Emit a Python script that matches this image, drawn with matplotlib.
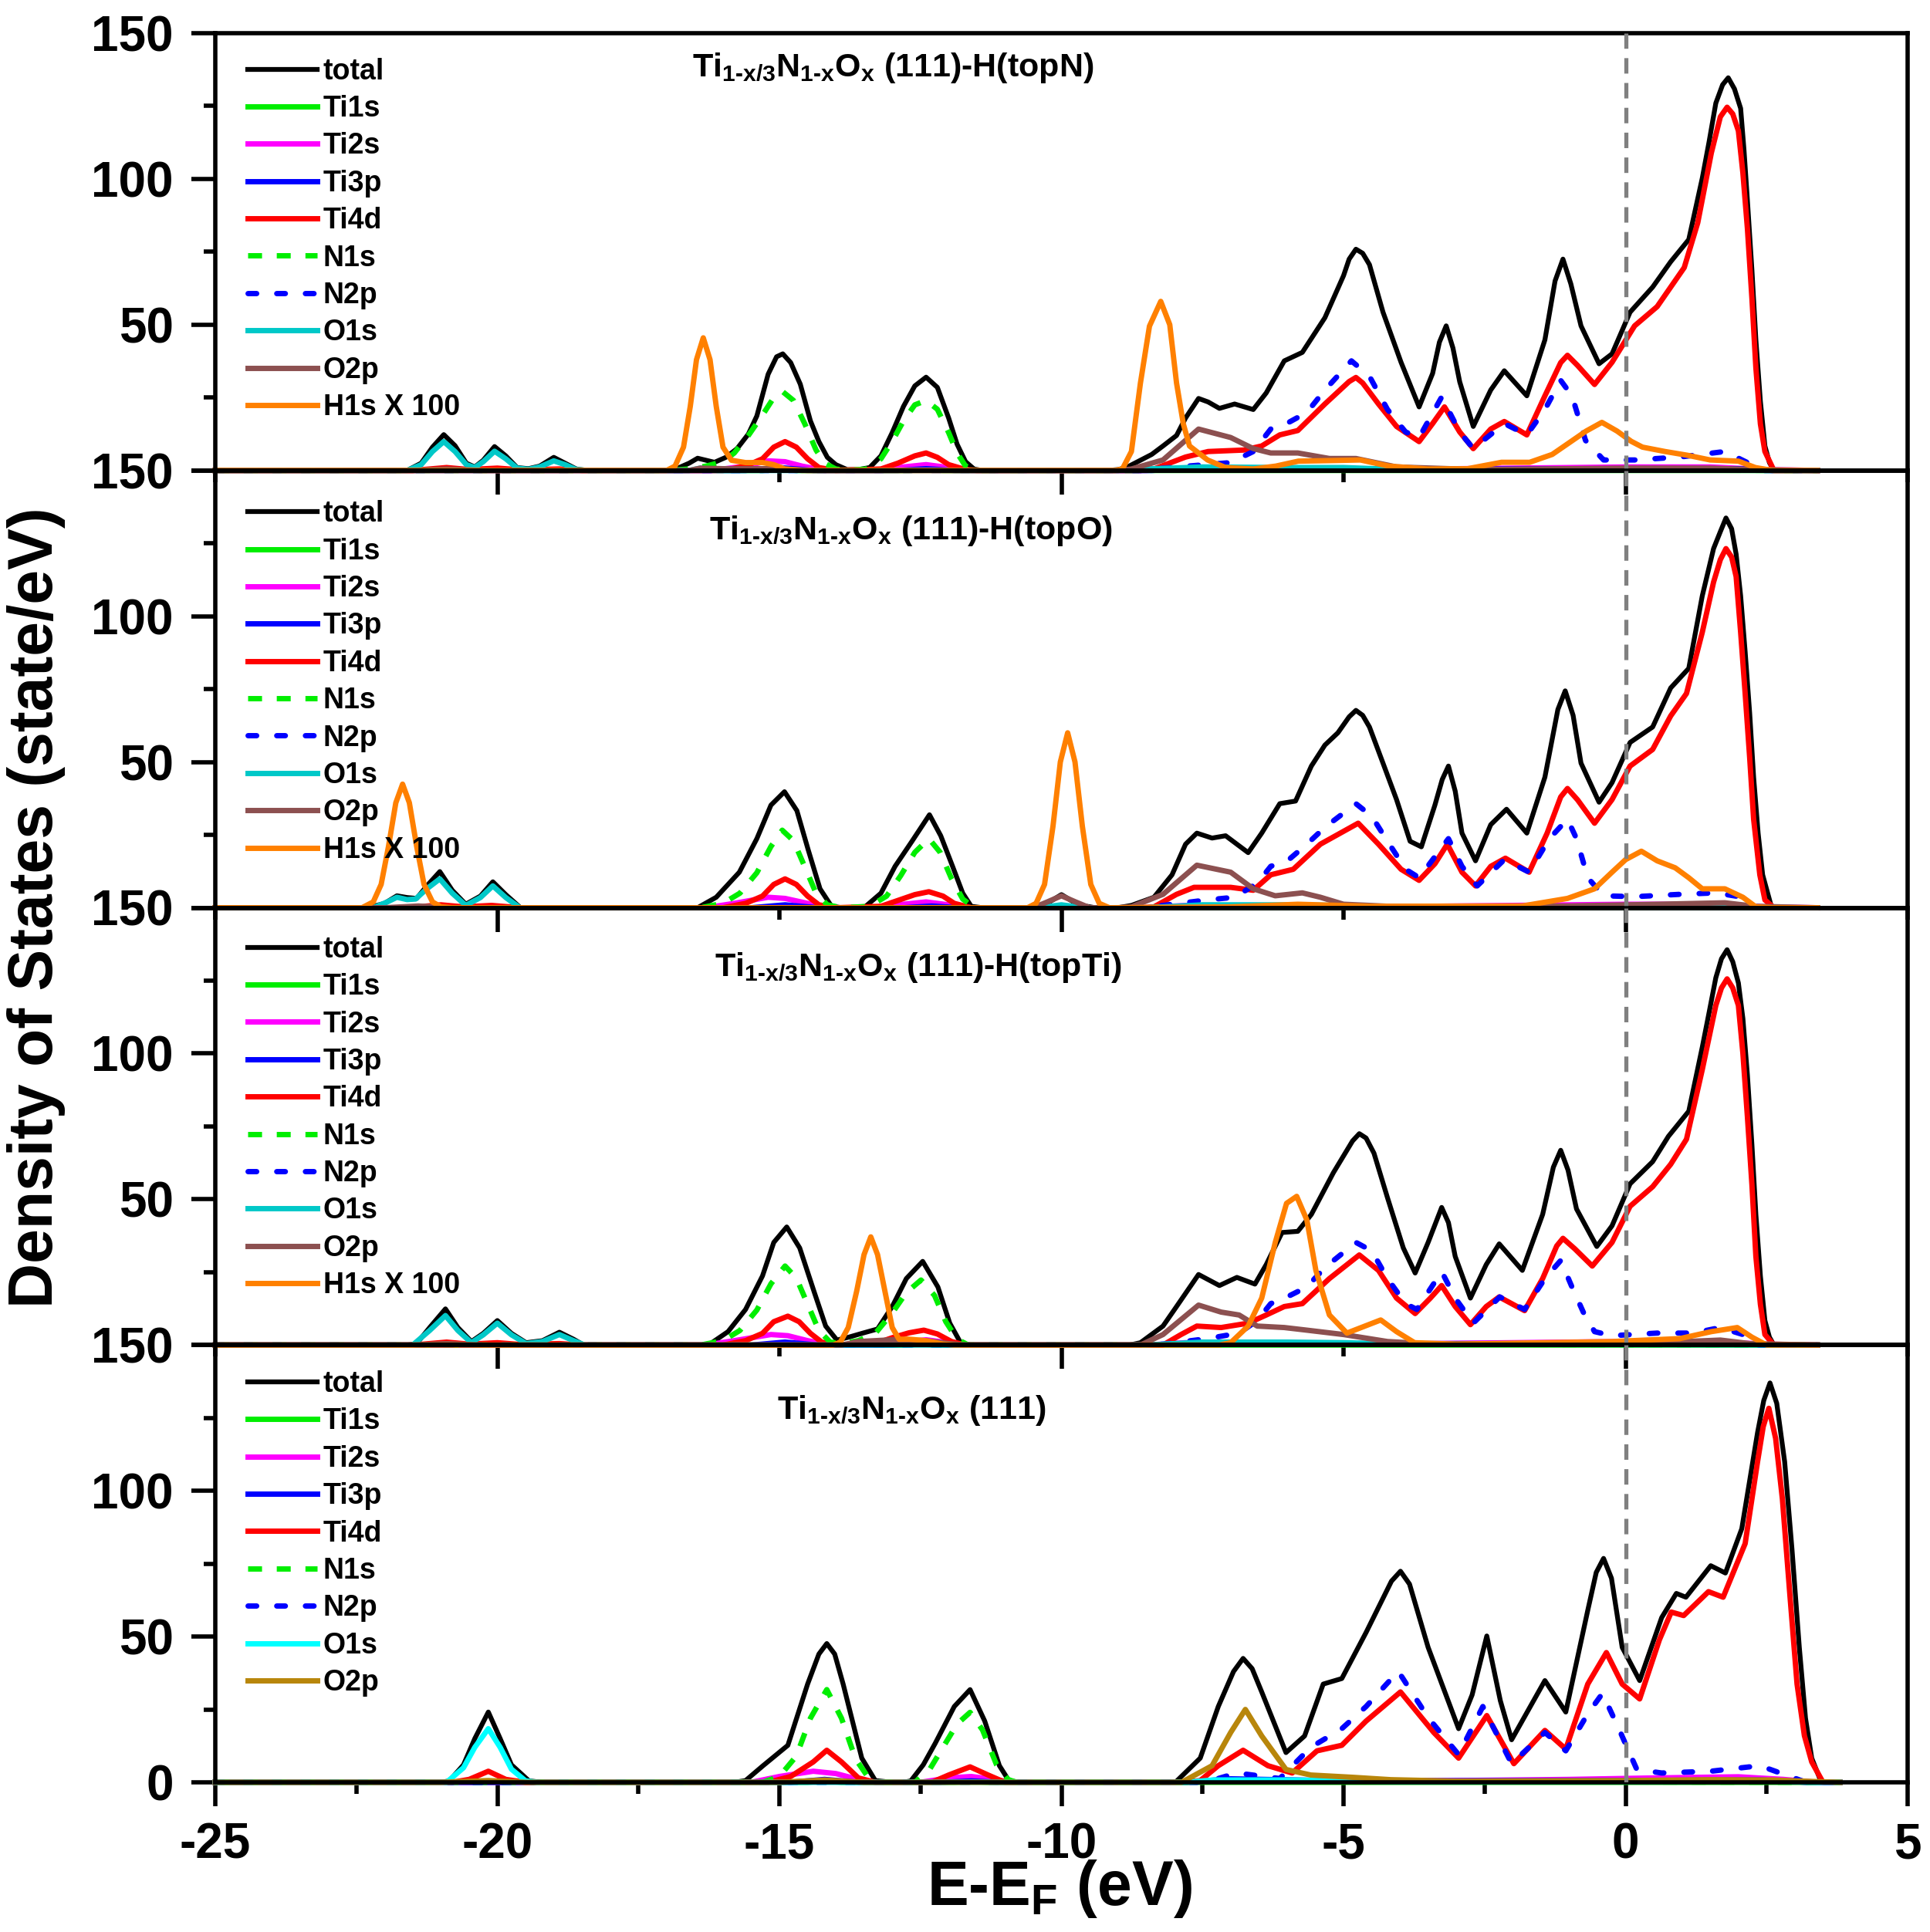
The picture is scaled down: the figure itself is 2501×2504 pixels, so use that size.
import matplotlib
matplotlib.use("Agg")
import matplotlib.pyplot as plt
from matplotlib.ticker import MultipleLocator

# fonts: bold Arial look-alike everywhere, also inside mathtext
plt.rcParams['font.family'] = ['Liberation Sans', 'DejaVu Sans']
plt.rcParams['font.weight'] = 'bold'
plt.rcParams['axes.unicode_minus'] = False
plt.rcParams['mathtext.fontset'] = 'custom'
plt.rcParams['mathtext.rm'] = 'Liberation Sans:bold'
plt.rcParams['mathtext.it'] = 'Liberation Sans:bold'
plt.rcParams['mathtext.bf'] = 'Liberation Sans:bold'

# ---------------- data: (E-EF, DOS) points ----------------
# panel 1: H on top of N
p1_total = [(-25, 0), (-21.6, 0), (-21.35, 2.5), (-21.15, 8), (-20.95, 12.3), (-20.75, 8.5), (-20.55, 2.5), (-20.4, 1.2),
            (-20.25, 3.5), (-20.05, 8.2), (-19.85, 5), (-19.65, 1), (-19.45, 0.6), (-19.25, 1.5), (-19.0, 4.5), (-18.8, 2.5),
            (-18.6, 0.5), (-18.4, 0), (-17.0, 0), (-16.8, 0.8), (-16.6, 2.5), (-16.45, 4.2), (-16.3, 3.5), (-16.15, 2.8),
            (-15.95, 4.5), (-15.75, 7.5), (-15.55, 12.5), (-15.4, 18.7), (-15.2, 33), (-15.05, 39), (-14.94, 40), (-14.8, 37),
            (-14.63, 29.6), (-14.45, 17), (-14.3, 9.9), (-14.15, 4.5), (-14.0, 2), (-13.8, 0.3), (-13.6, 0.3), (-13.4, 1),
            (-13.2, 5), (-13.0, 13), (-12.8, 22), (-12.6, 29), (-12.4, 32), (-12.2, 28.5), (-12.0, 18), (-11.85, 9),
            (-11.7, 3), (-11.55, 0.5), (-11.4, 0), (-9.2, 0), (-9.0, 0.3), (-8.85, 1), (-8.68, 2.7), (-8.4, 5.5), (-8.2, 8.4),
            (-7.96, 12), (-7.8, 18), (-7.57, 24.7), (-7.4, 23.5), (-7.2, 21.3), (-6.93, 22.8), (-6.6, 20.9), (-6.37, 26.6),
            (-6.05, 37.6), (-5.73, 40.5), (-5.33, 52.4), (-5.0, 66.8), (-4.9, 72.5), (-4.78, 75.9), (-4.66, 74.5),
            (-4.54, 70.6), (-4.3, 54.3), (-3.98, 37.1), (-3.66, 21.8), (-3.42, 33.3), (-3.3, 44), (-3.18, 49.6),
            (-3.06, 42), (-2.94, 30.4), (-2.7, 15.1), (-2.39, 27.6), (-2.15, 34.2), (-1.75, 25.6), (-1.43, 44.8),
            (-1.25, 65), (-1.11, 72.5), (-0.97, 64), (-0.79, 49.6), (-0.47, 36.6), (-0.24, 40), (0.08, 54.3),
            (0.48, 62.9), (0.8, 71.6), (1.12, 79.2), (1.36, 100.3), (1.48, 112.7), (1.6, 126), (1.72, 132.3),
            (1.82, 134.7), (1.93, 130.9), (2.04, 124.2), (2.1, 109.8), (2.16, 92.6), (2.24, 68.7), (2.31, 44.8),
            (2.39, 23.7), (2.47, 8.4), (2.55, 2.7), (2.63, 0), (3.4, 0)]
p1_ti1s = [(-25, 0), (-15.3, 0), (-15.0, 0.4), (-14.7, 0), (-12.7, 0), (-12.4, 0.3), (-12.1, 0), (3.4, 0)]
p1_ti2s = [(-25, 0), (-16.2, 0), (-15.6, 1.5), (-15.2, 3.3), (-14.9, 3), (-14.6, 1.5), (-14.2, 0), (-13.2, 0),
           (-12.8, 1.2), (-12.4, 2), (-12.0, 1), (-11.6, 0), (-8.5, 0), (-7.8, 0.8), (-7.0, 0.6), (-6.0, 0.5),
           (-4.0, 0.4), (-2.0, 0.8), (0.0, 1.2), (1.5, 1.2), (2.5, 0.3), (3.4, 0)]
p1_ti3p = [(-25, 0), (-15.6, 0), (-15.0, 1.0), (-14.4, 0), (-12.9, 0), (-12.4, 0.6), (-11.9, 0), (-8.4, 0),
           (-7.5, 0.8), (-5.0, 0.5), (0.0, 0.5), (2.0, 0.6), (2.6, 0), (3.4, 0)]
p1_ti4d = [(-25, 0), (-21.5, 0), (-20.9, 1.0), (-20.5, 0.3), (-20.0, 0.8), (-19.6, 0.2), (-18.9, 0.5), (-18.5, 0),
           (-16.0, 0), (-15.6, 1.5), (-15.3, 4), (-15.1, 8), (-14.9, 9.9), (-14.7, 8), (-14.5, 4), (-14.3, 1), (-14.0, 0),
           (-13.2, 0.5), (-12.9, 2.5), (-12.6, 5), (-12.4, 6), (-12.2, 4.5), (-12.0, 2), (-11.7, 0.3), (-11.5, 0),
           (-8.6, 0), (-8.36, 0.5), (-7.8, 4.6), (-7.4, 6.5), (-6.77, 7), (-6.45, 8.4), (-6.13, 12.2), (-5.81, 13.7),
           (-5.33, 22.8), (-4.9, 30.5), (-4.78, 31.9), (-4.66, 30), (-4.38, 22.8), (-4.06, 15.1), (-3.66, 9.9),
           (-3.42, 16.1), (-3.21, 21.8), (-2.94, 13.2), (-2.7, 7.5), (-2.39, 14.2), (-2.15, 16.8), (-1.75, 12.2),
           (-1.43, 25.6), (-1.15, 37), (-1.03, 39.5), (-0.85, 36), (-0.55, 29.5), (-0.24, 37.1), (0.16, 49.6),
           (0.56, 56.2), (1.04, 69.6), (1.28, 85), (1.52, 108.9), (1.68, 121.3), (1.8, 124.6), (1.9, 122.3),
           (2.0, 116.5), (2.08, 102), (2.16, 83), (2.24, 59), (2.31, 35.2), (2.39, 16), (2.47, 6.5), (2.63, 0), (3.4, 0)]
p1_n1s = [(-25, 0), (-17.0, 0), (-16.6, 0.5), (-16.3, 1.5), (-16.0, 3), (-15.8, 6), (-15.55, 12), (-15.3, 19),
          (-15.1, 25), (-14.94, 27), (-14.75, 24), (-14.55, 16), (-14.35, 7), (-14.2, 2.5), (-14.0, 0.5), (-13.8, 0),
          (-13.45, 0.5), (-13.2, 4), (-13.0, 10), (-12.8, 17), (-12.6, 22.5), (-12.4, 24), (-12.2, 21), (-12.0, 13),
          (-11.85, 6), (-11.7, 1.5), (-11.5, 0), (-8.5, 0), (-7.6, 0.6), (-6.5, 0.3), (-5.0, 0.3), (3.4, 0)]
p1_n2p = [(-25, 0), (-8.6, 0), (-8.2, 0.8), (-7.0, 2.7), (-6.6, 6.5), (-6.29, 14.2), (-5.97, 16.5), (-5.65, 19.9),
          (-5.33, 27.6), (-4.86, 37.6), (-4.54, 32.3), (-4.22, 20.9), (-3.9, 13.2), (-3.66, 11.3), (-3.26, 25.2),
          (-2.94, 13.2), (-2.7, 7.5), (-2.15, 16.1), (-1.75, 12.2), (-1.43, 20.9), (-1.15, 30.9), (-0.95, 25.6),
          (-0.71, 10.3), (-0.39, 3.6), (0.16, 3.6), (0.96, 4.6), (1.76, 6.5), (2.16, 2.7), (2.39, 0), (3.4, 0)]
p1_o1s = [(-25, 0), (-21.6, 0), (-21.35, 2), (-21.15, 6.5), (-20.95, 9.9), (-20.75, 6.5), (-20.55, 2), (-20.4, 1),
          (-20.25, 3), (-20.05, 6.6), (-19.85, 4), (-19.65, 0.8), (-19.45, 0.4), (-19.25, 1.2), (-19.0, 3.3), (-18.8, 2),
          (-18.6, 0.3), (-18.4, 0), (-16.6, 0), (-16.4, 0.8), (-16.1, 0), (-9.0, 0), (-8.5, 0.5), (-7.5, 1.2),
          (-6.0, 1.0), (-5.0, 1.0), (-4.0, 0.3), (3.4, 0)]
p1_o2p = [(-25, 0), (-21.5, 0), (-20.9, 0.5), (-20.3, 0), (-16.6, 0), (-16.4, 0.8), (-16.0, 0.6), (-15.0, 0.6),
          (-14.5, 0), (-9.0, 0), (-8.76, 0.5), (-8.2, 3.6), (-7.57, 14.2), (-7.0, 11.3), (-6.6, 7.5), (-6.29, 6),
          (-5.81, 6), (-5.25, 4.1), (-4.78, 4.1), (-4.06, 1.2), (-2.63, 0.3), (0.0, 0.8), (1.5, 0.8), (2.3, 0.3), (3.4, 0)]
p1_h1s = [(-25, 0), (-17.0, 0), (-16.85, 1.5), (-16.7, 8), (-16.58, 22), (-16.47, 38), (-16.35, 45.5), (-16.23, 38),
          (-16.12, 22), (-16.0, 8), (-15.85, 3.5), (-15.6, 2.7), (-15.3, 2.7), (-15.1, 2), (-14.9, 0.5), (-14.6, 0),
          (-9.05, 0), (-8.92, 0.5), (-8.76, 6.5), (-8.6, 30), (-8.44, 49.5), (-8.24, 58), (-8.08, 50), (-7.96, 30),
          (-7.84, 16), (-7.73, 8.4), (-7.41, 3.6), (-7.09, 1), (-6.6, 0.5), (-6.2, 1.5), (-5.8, 3.2), (-5.2, 3.4),
          (-4.7, 3.6), (-4.2, 1.5), (-3.5, 0.5), (-2.8, 0.6), (-2.2, 2.8), (-1.7, 2.8), (-1.3, 5.5), (-1.0, 9.5),
          (-0.7, 13.5), (-0.42, 16.5), (-0.15, 13.5), (0.1, 10), (0.3, 8), (0.7, 6.5), (1.1, 5.2), (1.5, 3.6),
          (2.0, 3.2), (2.3, 1), (2.6, 0), (3.4, 0)]

# panel 2: H on top of O
p2_total = [(-25, 0), (-22.3, 0), (-22.0, 1.5), (-21.78, 4.1), (-21.6, 3.5), (-21.43, 3.2), (-21.25, 7.5), (-21.02, 12.4),
            (-20.8, 6), (-20.56, 1.2), (-20.3, 4), (-20.08, 8.9), (-19.85, 4.5), (-19.59, 0), (-16.45, 0), (-16.12, 3.6),
            (-15.71, 12.2), (-15.4, 23.7), (-15.15, 35.2), (-14.91, 39.8), (-14.69, 33.3), (-14.49, 19.9), (-14.28, 6.5),
            (-14.08, 0.6), (-13.9, 0), (-13.5, 0), (-13.2, 5), (-12.95, 14.2), (-12.65, 22.8), (-12.34, 31.9),
            (-12.14, 24.7), (-11.93, 14.2), (-11.75, 5), (-11.6, 0.5), (-11.4, 0), (-10.5, 0), (-10.3, 1), (-10.0, 4.5),
            (-9.7, 1), (-9.4, 0), (-9.0, 0), (-8.76, 0.8), (-8.36, 3.6), (-8.04, 11.3), (-7.8, 21.8), (-7.6, 25.6),
            (-7.33, 23.9), (-7.09, 24.7), (-6.69, 18.9), (-6.45, 25.6), (-6.13, 35.7), (-5.85, 36.6), (-5.57, 48.6),
            (-5.33, 55.8), (-5.1, 60), (-4.9, 65.5), (-4.78, 67.7), (-4.66, 66), (-4.54, 62), (-4.3, 49.6),
            (-4.06, 37.1), (-3.82, 22.8), (-3.62, 20.9), (-3.38, 35.2), (-3.25, 44), (-3.14, 48.6), (-3.02, 40),
            (-2.9, 25.6), (-2.66, 16.1), (-2.39, 28.5), (-2.11, 33.8), (-1.75, 25.6), (-1.43, 44.8), (-1.2, 68),
            (-1.07, 74.4), (-0.93, 66), (-0.79, 49.6), (-0.47, 36.2), (-0.24, 42.9), (0.08, 56.7), (0.48, 62),
            (0.8, 75.4), (1.12, 82.1), (1.36, 107), (1.56, 123.2), (1.68, 129), (1.78, 133.7), (1.88, 130),
            (1.96, 121.3), (2.04, 107), (2.12, 87.8), (2.2, 66.8), (2.27, 44.8), (2.35, 25.6), (2.43, 11.3),
            (2.59, 0), (3.4, 0)]
p2_ti1s = [(-25, 0), (-15.2, 0), (-14.9, 0.4), (-14.6, 0), (-12.6, 0), (-12.3, 0.3), (-12.0, 0), (3.4, 0)]
p2_ti2s = [(-25, 0), (-16.3, 0), (-15.8, 1.5), (-15.2, 3.6), (-14.9, 3.2), (-14.5, 1.5), (-14.1, 0), (-13.3, 0),
           (-12.8, 1.2), (-12.4, 2), (-12.0, 1), (-11.6, 0), (-8.5, 0), (-7.8, 0.8), (-6.0, 0.5), (-4.0, 0.4),
           (-2.0, 0.8), (0.0, 1.2), (1.5, 1.2), (2.5, 0.3), (3.4, 0)]
p2_ti3p = [(-25, 0), (-15.5, 0), (-14.9, 1.0), (-14.3, 0), (-12.8, 0), (-12.3, 0.6), (-11.8, 0), (-8.4, 0),
           (-7.5, 0.8), (-5.0, 0.5), (0.0, 0.5), (2.0, 0.6), (2.6, 0), (3.4, 0)]
p2_ti4d = [(-25, 0), (-21.6, 0), (-21.0, 1.0), (-20.6, 0.3), (-20.1, 0.8), (-19.6, 0), (-16.0, 0), (-15.6, 1.5),
           (-15.3, 4), (-15.1, 8), (-14.9, 9.9), (-14.7, 8), (-14.5, 4), (-14.3, 1), (-14.0, 0), (-13.2, 0.5),
           (-12.9, 2.5), (-12.6, 4.5), (-12.35, 5.5), (-12.1, 4), (-11.9, 1.5), (-11.6, 0), (-8.6, 0), (-8.36, 0.3),
           (-7.96, 4.6), (-7.65, 7), (-7.0, 7), (-6.6, 6), (-6.29, 11.3), (-5.89, 13.2), (-5.41, 21.8), (-4.74, 29),
           (-4.38, 21.8), (-3.98, 13.2), (-3.66, 9.4), (-3.38, 15.1), (-3.16, 21.8), (-2.9, 12.2), (-2.66, 7.5),
           (-2.39, 14.2), (-2.13, 17), (-1.71, 12.2), (-1.39, 25.6), (-1.15, 38), (-1.03, 40.9), (-0.85, 37),
           (-0.55, 29), (-0.24, 37.1), (0.08, 48.6), (0.48, 54.3), (0.8, 65.8), (1.08, 73.5), (1.36, 94.5),
           (1.56, 111.7), (1.68, 119.4), (1.78, 123.2), (1.88, 120.3), (1.96, 113.6), (2.04, 94.5), (2.12, 73.5),
           (2.2, 51.5), (2.27, 30.4), (2.38, 11.3), (2.47, 2.7), (2.63, 0), (3.4, 0)]
p2_n1s = [(-25, 0), (-16.4, 0), (-16.0, 1.5), (-15.7, 5), (-15.4, 12), (-15.15, 21), (-14.95, 26.6), (-14.75, 23),
          (-14.55, 14), (-14.35, 5), (-14.15, 1), (-13.9, 0), (-13.4, 0.5), (-13.1, 4), (-12.85, 11), (-12.6, 19),
          (-12.35, 23.7), (-12.15, 19), (-11.95, 10), (-11.75, 3), (-11.55, 0), (-8.5, 0), (-7.6, 0.6), (-6.5, 0.3),
          (-5.0, 0.3), (3.4, 0)]
p2_n2p = [(-25, 0), (-8.6, 0), (-8.2, 0.8), (-7.41, 2.7), (-6.93, 3.6), (-6.53, 8.4), (-6.29, 14.2), (-5.97, 16.5),
          (-5.65, 21.8), (-5.33, 27.6), (-4.78, 35.7), (-4.5, 31.4), (-4.22, 22.8), (-3.9, 13.2), (-3.66, 10.3),
          (-3.14, 23.7), (-2.9, 14.2), (-2.63, 7.5), (-2.15, 16.5), (-1.71, 12.2), (-1.35, 23.7), (-1.03, 30.4),
          (-0.87, 23.7), (-0.67, 10.3), (-0.39, 4.1), (0.16, 3.8), (0.96, 4.6), (1.6, 5.1), (2.08, 3.6), (2.31, 0),
          (3.4, 0)]
p2_o1s = [(-25, 0), (-22.2, 0), (-21.95, 2), (-21.78, 3.6), (-21.6, 2.8), (-21.45, 3), (-21.25, 6.5), (-21.02, 9.9),
          (-20.8, 5), (-20.56, 0.8), (-20.3, 3.5), (-20.08, 7.5), (-19.85, 3.5), (-19.6, 0), (-10.4, 0), (-10.0, 1),
          (-9.6, 0), (-8.5, 0), (-7.5, 1.0), (-6.0, 1.0), (-5.0, 0.8), (-4.0, 0.3), (3.4, 0)]
p2_o2p = [(-25, 0), (-22.0, 0), (-21.4, 0.6), (-20.8, 0), (-10.5, 0), (-10.25, 2), (-10.0, 4.1), (-9.75, 2),
          (-9.5, 0), (-9.0, 0), (-8.76, 0.3), (-8.2, 4.6), (-7.6, 14.6), (-7.0, 12.2), (-6.6, 6.5), (-6.21, 4.1),
          (-5.73, 5.1), (-5.41, 3.6), (-5.0, 1.2), (-4.2, 0.5), (-1.0, 0.6), (0.56, 1.2), (1.76, 1.7), (2.3, 0.5),
          (3.4, 0)]
p2_h1s = [(-25, 0), (-22.4, 0), (-22.2, 2), (-22.06, 8), (-21.93, 21), (-21.8, 36), (-21.68, 42.4), (-21.56, 36),
          (-21.43, 21), (-21.3, 8), (-21.15, 2), (-21.0, 0.3), (-20.8, 0), (-10.6, 0), (-10.45, 1.5), (-10.3, 8),
          (-10.15, 28), (-10.02, 50), (-9.89, 60), (-9.76, 50), (-9.63, 28), (-9.48, 8), (-9.33, 1.5), (-9.15, 0),
          (-7.0, 0.3), (-5.81, 1.2), (-4.5, 0.5), (-1.83, 0.6), (-1.03, 3.2), (-0.55, 6.5), (-0.24, 12.2), (0.0, 16.5),
          (0.28, 19.4), (0.56, 16.1), (0.88, 13.7), (1.12, 10.3), (1.36, 6.5), (1.76, 6.5), (2.08, 3.6), (2.31, 0.3),
          (2.6, 0), (3.4, 0)]

# panel 3: H on top of Ti
p3_total = [(-25, 0), (-21.6, 0), (-21.43, 0.5), (-21.2, 6), (-20.92, 12.4), (-20.7, 6), (-20.46, 1.2), (-20.25, 4),
            (-20.0, 8.4), (-19.75, 4), (-19.49, 0.8), (-19.2, 1.5), (-18.9, 4.4), (-18.65, 2), (-18.47, 0), (-16.4, 0),
            (-16.22, 0.5), (-15.91, 4.6), (-15.6, 12.2), (-15.3, 23.7), (-15.1, 35.2), (-14.87, 40.5), (-14.64, 33.3),
            (-14.38, 18), (-14.18, 6.5), (-13.98, 1.7), (-13.77, 2.7), (-13.52, 4.1), (-13.26, 5.5), (-13.0, 13.2),
            (-12.75, 22.8), (-12.46, 28.7), (-12.19, 19.9), (-11.98, 7.5), (-11.78, 0.5), (-11.6, 0), (-8.8, 0),
            (-8.6, 0.8), (-8.2, 6.5), (-7.96, 13.2), (-7.57, 24.2), (-7.2, 20.4), (-6.89, 23.2), (-6.57, 20.9),
            (-6.37, 27.6), (-6.09, 38.6), (-5.81, 39), (-5.57, 44.8), (-5.18, 59.1), (-4.84, 70), (-4.72, 72.5),
            (-4.6, 71), (-4.46, 65.8), (-4.22, 50.5), (-3.94, 33.3), (-3.73, 24.7), (-3.5, 35.2), (-3.26, 47.2),
            (-3.14, 42), (-3.02, 30.4), (-2.75, 16.1), (-2.47, 27.6), (-2.24, 34.7), (-1.83, 25.6), (-1.47, 44.8),
            (-1.28, 61), (-1.15, 66.8), (-1.02, 60), (-0.87, 46.7), (-0.51, 33.8), (-0.24, 40.9), (0.08, 55.3),
            (0.48, 62.9), (0.76, 71.6), (1.12, 80.2), (1.36, 102.2), (1.48, 114), (1.6, 126), (1.7, 132.5),
            (1.8, 135.6), (1.9, 131.5), (2.0, 124.2), (2.08, 112), (2.16, 92.6), (2.24, 68.7), (2.31, 44.8),
            (2.39, 23.7), (2.47, 8.4), (2.55, 2.7), (2.63, 0), (3.4, 0)]
p3_ti1s = [(-25, 0), (-15.2, 0), (-14.9, 0.4), (-14.6, 0), (-12.8, 0), (-12.5, 0.3), (-12.2, 0), (3.4, 0)]
p3_ti2s = [(-25, 0), (-16.3, 0), (-15.8, 1.5), (-15.15, 3.6), (-14.85, 3.2), (-14.5, 1.5), (-14.1, 0), (-13.3, 0),
           (-12.8, 1), (-12.4, 1.8), (-12.0, 0.8), (-11.6, 0), (-8.5, 0), (-7.8, 0.8), (-6.0, 0.5), (-4.0, 0.4),
           (-2.0, 0.8), (0.0, 1.2), (1.5, 1.2), (2.5, 0.3), (3.4, 0)]
p3_ti3p = [(-25, 0), (-15.5, 0), (-14.9, 1.0), (-14.3, 0), (-13.0, 0), (-12.5, 0.6), (-12.0, 0), (-8.4, 0),
           (-7.5, 0.8), (-5.0, 0.5), (0.0, 0.5), (2.0, 0.6), (2.6, 0), (3.4, 0)]
p3_ti4d = [(-25, 0), (-21.5, 0), (-20.9, 1.0), (-20.5, 0.3), (-20.0, 0.8), (-19.6, 0.2), (-18.9, 0.5), (-18.5, 0),
           (-16.0, 0), (-15.6, 1.5), (-15.3, 4), (-15.1, 8), (-14.85, 9.9), (-14.65, 8), (-14.45, 4), (-14.25, 1),
           (-14.0, 0), (-13.3, 0.5), (-13.0, 2.5), (-12.7, 4.2), (-12.44, 5.1), (-12.2, 3.8), (-11.95, 1.2), (-11.7, 0),
           (-8.2, 0), (-7.88, 3.6), (-7.6, 6.5), (-7.17, 6), (-6.69, 7.5), (-6.37, 10.3), (-6.05, 13.2), (-5.73, 14.2),
           (-5.25, 22.8), (-4.72, 30.9), (-4.38, 25.6), (-4.06, 16.1), (-3.73, 10.8), (-3.46, 16.1), (-3.26, 20.4),
           (-3.02, 13.2), (-2.75, 7), (-2.47, 13.2), (-2.24, 16.5), (-1.79, 11.8), (-1.47, 22.8), (-1.22, 34),
           (-1.11, 36.6), (-0.9, 33), (-0.59, 27.1), (-0.24, 35.2), (0.08, 47.6), (0.48, 54.3), (0.8, 62),
           (1.08, 70.6), (1.36, 94.5), (1.6, 116.5), (1.7, 122.5), (1.8, 125.6), (1.9, 122.5), (2.0, 116.5),
           (2.08, 100), (2.16, 78.3), (2.24, 55), (2.31, 30.4), (2.39, 14), (2.47, 3.6), (2.63, 0), (3.4, 0)]
p3_n1s = [(-25, 0), (-16.4, 0), (-16.0, 1.5), (-15.7, 5), (-15.4, 12), (-15.15, 21), (-14.9, 27.1), (-14.7, 23),
          (-14.5, 14), (-14.3, 5), (-14.1, 1), (-13.9, 0.5), (-13.6, 1.5), (-13.3, 4), (-13.0, 11), (-12.75, 18),
          (-12.49, 22.3), (-12.25, 17), (-12.05, 8), (-11.85, 2), (-11.65, 0), (-8.5, 0), (-7.6, 0.6), (-6.5, 0.3),
          (-5.0, 0.3), (3.4, 0)]
p3_n2p = [(-25, 0), (-8.6, 0), (-8.2, 0.3), (-7.41, 2.2), (-6.85, 4.1), (-6.53, 8.4), (-6.29, 14.2), (-5.97, 16.8),
          (-5.65, 19.9), (-5.33, 26.6), (-4.78, 35.2), (-4.5, 32.3), (-4.22, 22.8), (-3.9, 14.2), (-3.7, 12.2),
          (-3.26, 25.2), (-3.02, 16.1), (-2.7, 7.5), (-2.23, 16.5), (-1.79, 12.2), (-1.43, 22.8), (-1.15, 29),
          (-0.95, 19.9), (-0.75, 11.3), (-0.55, 4.6), (-0.24, 3.2), (0.56, 4.1), (1.2, 4.1), (1.68, 6), (2.08, 3.6),
          (2.31, 0), (3.4, 0)]
p3_o1s = [(-25, 0), (-21.5, 0), (-21.2, 5), (-20.92, 10.1), (-20.7, 5), (-20.46, 0.8), (-20.25, 3.5), (-20.0, 7.5),
          (-19.75, 3.5), (-19.49, 0.5), (-19.2, 1.2), (-18.9, 3.6), (-18.65, 1.5), (-18.45, 0), (-8.5, 0), (-7.5, 1.0),
          (-6.0, 1.0), (-5.0, 0.8), (-4.0, 0.3), (3.4, 0)]
p3_o2p = [(-25, 0), (-21.5, 0), (-20.9, 0.5), (-20.3, 0), (-13.9, 0), (-13.6, 1.2), (-13.0, 1.8), (-12.4, 1.5),
          (-12.0, 0.5), (-11.7, 0), (-8.6, 0), (-8.2, 3.6), (-7.57, 13.7), (-7.17, 11.3), (-6.85, 10.3), (-6.53, 6.5),
          (-6.05, 6), (-5.65, 5.1), (-5.0, 3.6), (-4.22, 1.2), (-3.4, 0.3), (0.56, 0.8), (1.68, 1.7), (2.2, 0.5),
          (3.4, 0)]
p3_h1s = [(-25, 0), (-14.05, 0), (-13.92, 1), (-13.78, 6), (-13.63, 18.5), (-13.5, 31), (-13.38, 37.1), (-13.26, 31),
          (-13.13, 18.5), (-13.0, 6), (-12.88, 2), (-12.7, 2), (-12.4, 1.5), (-12.1, 0.3), (-11.9, 0), (-7.2, 0),
          (-7.0, 0.8), (-6.69, 6.5), (-6.45, 16.1), (-6.21, 35.2), (-6.01, 48.6), (-5.83, 51), (-5.65, 42.9),
          (-5.49, 25.6), (-5.25, 10.3), (-4.94, 4.1), (-4.62, 6.5), (-4.34, 8.6), (-4.06, 4.6), (-3.74, 0.8),
          (-3.0, 0.3), (-0.24, 1.2), (0.96, 2.2), (1.52, 4.6), (1.98, 6), (2.24, 2.7), (2.5, 0), (3.4, 0)]

# panel 4: clean surface
p4_total = [(-25, 0), (-21.0, 0), (-20.85, 0.5), (-20.6, 6), (-20.4, 15), (-20.16, 24.1), (-19.95, 15), (-19.75, 6),
            (-19.44, 0.5), (-19.2, 0), (-15.8, 0), (-15.6, 0.6), (-15.29, 5.7), (-14.85, 12.7), (-14.5, 33.7),
            (-14.3, 44), (-14.16, 47.6), (-14.02, 44), (-13.87, 33.7), (-13.54, 8.3), (-13.3, 0.6), (-13.0, 0),
            (-12.8, 0), (-12.67, 0.5), (-12.45, 6), (-12.24, 13.3), (-11.9, 26), (-11.62, 31.8), (-11.36, 21),
            (-11.1, 5.7), (-10.93, 0.5), (-10.7, 0), (-7.98, 0), (-7.54, 8.3), (-7.22, 26), (-6.95, 38), (-6.78, 42.5),
            (-6.62, 39), (-6.45, 31), (-6.02, 10.2), (-5.69, 15.9), (-5.36, 33.7), (-5.03, 35.6), (-4.6, 51.4),
            (-4.15, 69), (-3.99, 72.4), (-3.83, 68), (-3.5, 46.3), (-2.96, 18.4), (-2.72, 30), (-2.46, 50.2),
            (-2.22, 28), (-2.02, 14.6), (-1.43, 34.9), (-1.06, 24.1), (-0.67, 59), (-0.52, 72), (-0.39, 76.8),
            (-0.25, 70), (-0.06, 46.3), (0.25, 34.9), (0.64, 56.5), (0.9, 64.8), (1.07, 63.5), (1.51, 74.3),
            (1.77, 71.8), (2.06, 87), (2.34, 120), (2.45, 131), (2.56, 137), (2.68, 130), (2.82, 110), (2.95, 80),
            (3.08, 46.3), (3.19, 22), (3.3, 8.3), (3.47, 0), (3.8, 0)]
p4_ti1s = [(-25, 0), (-14.5, 0), (-14.2, 0.4), (-13.9, 0), (-11.9, 0), (-11.6, 0.3), (-11.3, 0), (3.8, 0)]
p4_ti2s = [(-25, 0), (-15.5, 0), (-15.0, 2), (-14.4, 3.8), (-14.0, 3), (-13.6, 1), (-13.3, 0), (-12.5, 0),
           (-12.0, 1.5), (-11.6, 2), (-11.2, 1), (-10.9, 0), (-7.8, 0), (-7.0, 0.9), (-5.5, 0.6), (-3.0, 0.6),
           (-1.0, 1.0), (0.5, 1.5), (2.0, 1.9), (2.8, 1.0), (3.4, 0), (3.8, 0)]
p4_ti3p = [(-25, 0), (-14.8, 0), (-14.2, 1.0), (-13.6, 0), (-12.1, 0), (-11.6, 0.5), (-11.1, 0), (-7.8, 0),
           (-7.0, 1.2), (-5.0, 0.5), (0.0, 0.6), (2.4, 0.8), (3.2, 0), (3.8, 0)]
p4_ti4d = [(-25, 0), (-20.8, 0), (-20.5, 1), (-20.16, 3.8), (-19.85, 1), (-19.5, 0), (-15.2, 0), (-14.8, 2),
           (-14.4, 7), (-14.16, 11), (-13.9, 7), (-13.6, 1.5), (-13.3, 0), (-12.3, 0), (-12.0, 2.5), (-11.62, 5.3),
           (-11.3, 2.5), (-11.0, 0), (-7.8, 0), (-7.54, 0.6), (-7.22, 5.7), (-6.78, 11), (-6.34, 5.7), (-5.91, 3.2),
           (-5.47, 10.8), (-5.03, 12.7), (-4.6, 21), (-3.99, 31), (-3.4, 17.1), (-2.96, 8.3), (-2.46, 22.9),
           (-1.98, 6.4), (-1.43, 17.8), (-1.06, 11.4), (-0.67, 33.7), (-0.34, 44.5), (-0.06, 33.7), (0.25, 28.6),
           (0.6, 48.9), (0.81, 58.4), (1.03, 57.2), (1.47, 65.4), (1.73, 63.5), (2.12, 81.9), (2.34, 110),
           (2.44, 122), (2.54, 128.3), (2.66, 118), (2.78, 97.2), (2.91, 65), (3.04, 33.7), (3.17, 16), (3.3, 7),
           (3.5, 0), (3.8, 0)]
p4_n1s = [(-25, 0), (-15.3, 0), (-15.0, 2), (-14.7, 9), (-14.45, 22), (-14.16, 31.8), (-13.9, 22), (-13.65, 8),
          (-13.4, 1), (-13.2, 0), (-12.6, 0), (-12.35, 4), (-12.1, 12), (-11.85, 20), (-11.62, 24), (-11.4, 18),
          (-11.15, 6), (-10.95, 1), (-10.8, 0), (-7.8, 0), (-7.0, 0.6), (-5.0, 0.3), (3.8, 0)]
p4_n2p = [(-25, 0), (-7.6, 0), (-7.22, 1.3), (-6.89, 3.2), (-6.13, 1.3), (-5.58, 12), (-5.03, 18.4), (-4.6, 26),
          (-4.03, 38.1), (-3.5, 22.2), (-2.96, 9.5), (-2.53, 26), (-2.02, 6.4), (-1.43, 17.1), (-1.06, 10.8),
          (-0.67, 23.5), (-0.41, 30.5), (-0.12, 18.4), (0.2, 4.4), (0.64, 3.2), (1.51, 3.8), (2.38, 5.7), (2.93, 1.9),
          (3.2, 0), (3.8, 0)]
p4_o1s = [(-25, 0), (-20.9, 0), (-20.6, 5), (-20.4, 12), (-20.16, 18.4), (-19.95, 12), (-19.75, 4.5), (-19.5, 0.5),
          (-19.3, 0), (-7.8, 0), (-7.3, 0.8), (-6.0, 0.8), (-5.0, 0.5), (-4.0, 0.2), (1.0, 0.3), (2.0, 0.6), (2.8, 0.3),
          (3.4, 0), (3.8, 0)]
p4_o2p = [(-25, 0), (-21.0, 0), (-20.16, 0.6), (-19.5, 0), (-15.0, 0), (-14.2, 0.8), (-13.5, 0), (-7.87, 0),
          (-7.33, 5.7), (-7.0, 17.1), (-6.74, 25), (-6.45, 15.9), (-6.02, 4.4), (-5.58, 2.5), (-4.82, 1.7),
          (-4.16, 0.9), (-3.0, 0.4), (0.0, 0.6), (1.5, 0.9), (2.6, 0.8), (3.3, 0.3), (3.8, 0)]

labels = ['total', 'Ti1s', 'Ti2s', 'Ti3p', 'Ti4d', 'N1s', 'N2p', 'O1s', 'O2p', 'H1s X 100']
panel_titles = [r'Ti$_{1\text{-}x/3}$N$_{1\text{-}x}$O$_x$ (111)-H(topN)',
                r'Ti$_{1\text{-}x/3}$N$_{1\text{-}x}$O$_x$ (111)-H(topO)',
                r'Ti$_{1\text{-}x/3}$N$_{1\text{-}x}$O$_x$ (111)-H(topTi)',
                r'Ti$_{1\text{-}x/3}$N$_{1\text{-}x}$O$_x$ (111)']

panels = [
    [p1_total, p1_ti1s, p1_ti2s, p1_ti3p, p1_ti4d, p1_n1s, p1_n2p, p1_o1s, p1_o2p, p1_h1s],
    [p2_total, p2_ti1s, p2_ti2s, p2_ti3p, p2_ti4d, p2_n1s, p2_n2p, p2_o1s, p2_o2p, p2_h1s],
    [p3_total, p3_ti1s, p3_ti2s, p3_ti3p, p3_ti4d, p3_n1s, p3_n2p, p3_o1s, p3_o2p, p3_h1s],
    [p4_total, p4_ti1s, p4_ti2s, p4_ti3p, p4_ti4d, p4_n1s, p4_n2p, p4_o1s, p4_o2p],
]

# ---------------- styles ----------------
def line_style(name, panel_idx):
    clean = panel_idx == 3
    styles = {
        'total': dict(color='black', lw=4.5),
        'Ti1s': dict(color='#00ee00', lw=5.0),
        'Ti2s': dict(color='#ff00ff', lw=5.0),
        'Ti3p': dict(color='#0000ff', lw=5.0),
        'Ti4d': dict(color='#ff0000', lw=5.0),
        'N1s': dict(color='#00ee00', lw=5.0, linestyle=(0, (2.6, 2.75))),
        'N2p': dict(color='#0000ff', lw=5.0, linestyle=(0, (1.6, 3.75)), dash_capstyle='round'),
        'O1s': dict(color='#00ffff' if clean else '#00c8c8', lw=5.0),
        'O2p': dict(color='#b8860b' if clean else '#8c5050', lw=5.0),
        'H1s X 100': dict(color='#ff8000', lw=5.0),
    }
    return styles[name]

W, H = 2501, 2504
left_px, right_px, top_px, bot_px = 279, 2472, 43, 2310
ph = (bot_px - top_px) / 4.0

title_pos = [(0.282, 0.901), (0.292, 0.843), (0.295, 0.843), (0.332, 0.831)]
legend_y = [0.944, 0.932, 0.936, 0.942]

fig = plt.figure(figsize=(W / 100, H / 100), dpi=100)

for k, curves in enumerate(panels):
    y0 = top_px + k * ph
    ax = fig.add_axes([left_px / W, 1 - (y0 + ph) / H, (right_px - left_px) / W, ph / H])
    ax.set_facecolor('none')

    for name, pts in zip(labels, curves):
        xs = [p[0] for p in pts]
        ys = [p[1] for p in pts]
        ax.plot(xs, ys, label=name, clip_on=False, solid_joinstyle='round', **line_style(name, k))

    # Fermi level
    ax.axvline(0, color='#808080', lw=3.8, linestyle=(0, (3.8, 2.3)), zorder=10)

    ax.set_xlim(-25, 5)
    ax.set_ylim(0, 150)
    for sp in ax.spines.values():
        sp.set_linewidth(4.0)

    ax.yaxis.set_major_locator(MultipleLocator(50))
    ax.yaxis.set_minor_locator(MultipleLocator(25))
    if k == 3:
        ax.xaxis.set_major_locator(MultipleLocator(5))
        ax.xaxis.set_minor_locator(MultipleLocator(2.5))
        ax.set_yticks([0, 50, 100, 150])
        ax.set_yticklabels(['0', '50', '100', '150'])
    else:
        ax.xaxis.set_major_locator(MultipleLocator(10))
        ax.xaxis.set_minor_locator(MultipleLocator(5))
        ax.set_yticks([0, 50, 100, 150])
        ax.set_yticklabels(['', '50', '100', '150'])
        ax.tick_params(axis='x', labelbottom=False)

    ax.tick_params(which='major', direction='out', length=22, width=4.0, labelsize=46, pad=15)
    ax.tick_params(which='minor', direction='out', length=11, width=4.0)
    ax.tick_params(axis='y', which='major', pad=17)

    ax.text(title_pos[k][0], title_pos[k][1], panel_titles[k], transform=ax.transAxes,
            fontsize=31, fontweight='bold', ha='left', va='baseline')

    ax.legend(loc='upper left', bbox_to_anchor=(0.019, legend_y[k]), frameon=False,
              fontsize=27, handlelength=2.4, handletextpad=0.22, labelspacing=0.33,
              borderpad=0, borderaxespad=0)

fig.text(0.0186, 1 - 1176 / H, 'Density of States (state/eV)', rotation=90,
         fontsize=58, fontweight='bold', ha='center', va='center')
fig.text(1373 / W, 1 - 2469 / H, r'E-E$_\mathrm{F}$ (eV)', fontsize=58, fontweight='bold',
         ha='center', va='baseline')

fig.savefig('out.png', dpi=100)
